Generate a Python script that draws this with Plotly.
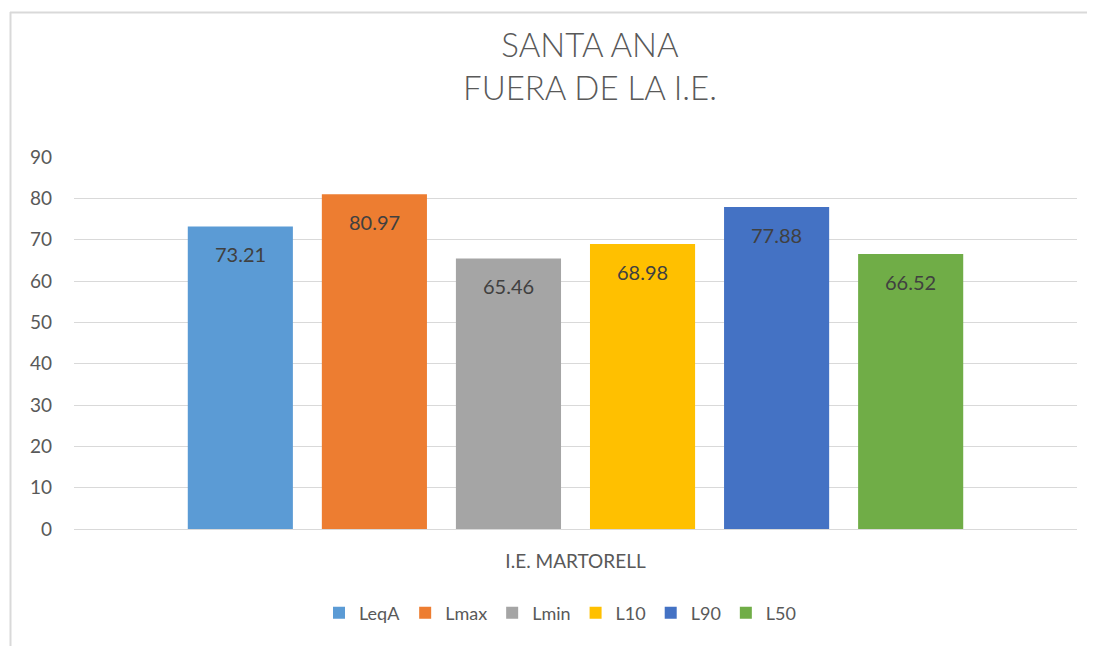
import plotly.graph_objects as go

category = ["I.E. MARTORELL"]
series = ["LeqA", "Lmax", "Lmin", "L10", "L90", "L50"]
values = [73.21, 80.97, 65.46, 68.98, 77.88, 66.52]
colors = ["#5B9BD5", "#ED7D31", "#A5A5A5", "#FFC000", "#4472C4", "#70AD47"]

FONT = "Lato, Open Sans, sans-serif"
GREY = "#595959"
OFF = 8  # the html page body has an 8px margin
W, H = 1095 - OFF, 646 - OFF

# plot area in page pixels
LEFT, RIGHT, TOP, BOTTOM = 74, 1077, 157, 529
PW, PH = RIGHT - LEFT, BOTTOM - TOP


def px(x):
    return (x - LEFT) / PW


def py(y):
    return (BOTTOM - y) / PH


fig = go.Figure()
for name, value, color in zip(series, values, colors):
    fig.add_trace(go.Bar(
        x=category,
        y=[value],
        name=name,
        marker={"color": color, "line": {"width": 0}},
        hoverinfo="skip",
    ))

slot = 134
for i, value in enumerate(values):
    fig.add_annotation(
        x=category[0],
        y=value,
        text=f"{value:.2f}",
        showarrow=False,
        xshift=(i - 2.5) * slot,
        yshift=-28,
        font={"color": "#404040", "size": 20, "family": FONT},
    )

fig.update_layout(
    width=W,
    height=H,
    barmode="group",
    bargap=0.198,
    bargroupgap=0.216,
    paper_bgcolor="white",
    plot_bgcolor="white",
    margin={"l": LEFT - OFF, "r": W - (RIGHT - OFF), "t": TOP - OFF,
            "b": H - (BOTTOM - OFF), "pad": 0},
    font={"family": FONT, "color": GREY, "size": 18},
    title={
        "text": "SANTA ANA<br>FUERA DE LA I.E.",
        "x": px(590),
        "xref": "paper",
        "xanchor": "center",
        "y": 1 - (57 - OFF) / H,
        "yanchor": "middle",
        "font": {"size": 33, "color": GREY, "family": FONT, "weight": 300},
    },
    legend={
        "orientation": "h",
        "x": px(560),
        "xanchor": "center",
        "y": py(613),
        "yanchor": "middle",
        "font": {"size": 18, "color": GREY},
        "itemwidth": 30,
        "traceorder": "normal",
    },
    showlegend=True,
)
fig.update_yaxes(
    range=[0, 90],
    dtick=10,
    showgrid=True,
    gridcolor="#D9D9D9",
    gridwidth=1,
    zeroline=False,
    showline=False,
    ticks="",
    ticklabelstandoff=21,
    tickfont={"size": 19, "color": GREY},
)
fig.update_xaxes(
    showline=True,
    linecolor="#D9D9D9",
    linewidth=1,
    ticks="",
    ticklabelstandoff=15,
    tickfont={"size": 19, "color": GREY},
)

# chart frame (top and left edges visible in the reference)
fig.add_shape(type="line", xref="paper", yref="paper",
              x0=px(10), x1=px(1110), y0=py(12.5), y1=py(12.5),
              line={"color": "#D9D9D9", "width": 2})
fig.add_shape(type="line", xref="paper", yref="paper",
              x0=px(10.5), x1=px(10.5), y0=py(12), y1=py(660),
              line={"color": "#D9D9D9", "width": 2})

fig.write_html("out.html")
